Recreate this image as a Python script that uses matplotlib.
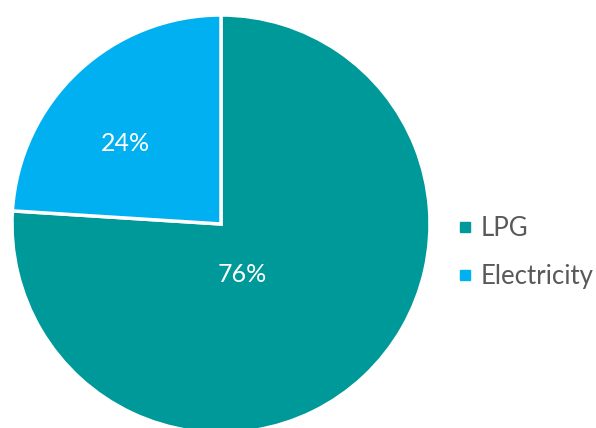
import numpy as np
import matplotlib
matplotlib.use("Agg")
import matplotlib.pyplot as plt
from matplotlib.lines import Line2D

labels = ['LPG', 'Electricity']
shares = [76, 24]
colors = ['#009999', '#00B0F0']

plt.rcParams['font.family'] = ['Lato', 'DejaVu Sans']

fig = plt.figure(figsize=(5.96, 4.28), dpi=100)
# square axes holding the pie (radius 1 fills it)
ax = fig.add_axes([12 / 596, (428 - 224 - 209) / 428, 418 / 596, 418 / 428])

wedges, _ = ax.pie(shares, colors=colors, startangle=90, counterclock=False,
                   wedgeprops=dict(edgecolor='white', linewidth=2.5))
ax.set_xlim(-1, 1)
ax.set_ylim(-1, 1)
ax.set_aspect('equal')

# percentage labels
ax.text(0.10, -0.24, f'{shares[0]}%', ha='center', va='center',
        color='white', fontsize=18)
ax.text(-0.455, 0.385, f'{shares[1]}%', ha='center', va='center',
        color='white', fontsize=18)

handles = [Line2D([], [], marker='s', linestyle='none', markersize=7,
                  markerfacecolor=c, markeredgecolor=c) for c in colors]
fig.legend(handles, labels, loc='center left', bbox_to_anchor=(0.728, 0.41),
           frameon=False, fontsize=18.5, labelcolor='#595959',
           handletextpad=0.3, labelspacing=0.9, handlelength=0.6)

fig.savefig('out.png', dpi=100)
